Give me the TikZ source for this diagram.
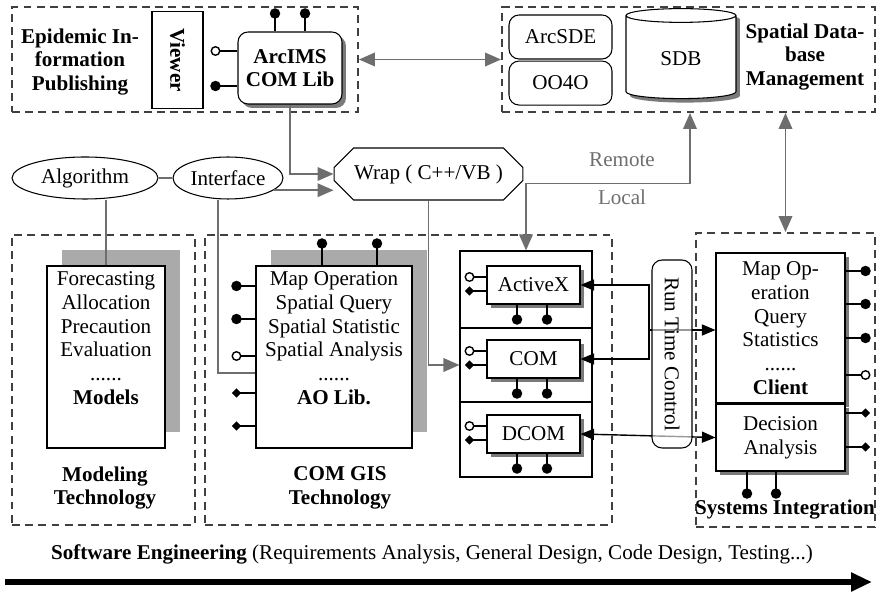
\documentclass[tikz,border=0pt,12pt]{standalone}
\usepackage{fontspec}
\setmainfont{Liberation Serif}
\linespread{0.93}
\usepackage{tikz}
\usetikzlibrary{
    shapes.geometric, shapes.misc, arrows.meta, positioning, shadows
}

\definecolor{linegray}{HTML}{6E6E6E}
\definecolor{dashgray}{HTML}{404040}
\definecolor{shadowlight}{HTML}{AAAAAA}
\definecolor{shadowdark}{HTML}{7A7A7A}

\begin{document}
\begin{tikzpicture}[x=0.02cm, y=-0.02cm, node distance=0.2cm]

    % Define styles for the nodes
    \tikzstyle{groupbox} = [
        rectangle, draw=dashgray, line width=1.1pt,
        dash pattern=on 4.5pt off 3pt, inner sep=0
    ]
    \tikzstyle{grouptitle} = [font=\bfseries, align=center, inner sep=1pt]
    \tikzstyle{plainbox} = [
        rectangle, draw=black, fill=white, semithick, align=center, inner sep=1pt
    ]
    \tikzstyle{roundbox} = [plainbox, rounded corners=0.2cm]
    \tikzstyle{darkshadow} = [
        drop shadow={shadow xshift=0.08cm, shadow yshift=-0.08cm,
        fill=shadowdark, opacity=1}
    ]
    \tikzstyle{backshadow} = [
        drop shadow={shadow xshift=0.3cm, shadow yshift=0.32cm,
        fill=shadowlight, opacity=1}
    ]
    \tikzstyle{oval} = [ellipse, draw=black, fill=white, semithick, inner sep=0]
    \tikzstyle{database} = [
        cylinder, shape border rotate=90, aspect=0.25, draw=black, fill=white, semithick
    ]
    \tikzstyle{wrapbox} = [
        chamfered rectangle, chamfered rectangle xsep=0.26cm,
        draw=black, fill=white, semithick
    ]
    \tikzstyle{stub} = [thick, black]
    \tikzstyle{ball} = [circle, fill=black, inner sep=0, minimum size=0.21cm]
    \tikzstyle{ring} = [circle, draw=black, thick, fill=white, inner sep=0, minimum size=0.17cm]
    \tikzstyle{lozenge} = [diamond, fill=black, inner sep=0, minimum size=0.2cm]
    \tikzstyle{grayline} = [draw=linegray, line width=1.1pt]
    \tikzstyle{grayarrow} = [grayline, -{Triangle[length=0.32cm, width=0.27cm]}]
    \tikzstyle{grayboth} = [
        grayline, {Triangle[length=0.32cm, width=0.27cm]}-{Triangle[length=0.32cm, width=0.27cm]}
    ]
    \tikzstyle{arrow} = [thick, -{Triangle[length=0.27cm, width=0.22cm]}]
    \tikzstyle{twoway} = [
        thick, {Triangle[length=0.27cm, width=0.22cm]}-{Triangle[length=0.27cm, width=0.22cm]}
    ]

    \useasboundingbox (0,0) rectangle (877,594);

    % Epidemic information publishing
    \node (pub) [groupbox, minimum width=6.92cm, minimum height=2.1cm] at (185,59.5) {};
    \node (pubtitle) [grouptitle] at (80,62) {Epidemic In-\\formation\\Publishing};
    \node (viewer) [plainbox, rotate=-90, font=\bfseries, minimum width=1.94cm, minimum height=1.02cm] at (177.5,60) {Viewer};
    \node (arcims) [roundbox, darkshadow, font=\bfseries, minimum width=2.08cm, minimum height=1.44cm] at (290,68) {ArcIMS\\COM Lib};

    % Spatial database management
    \node (sdm) [groupbox, minimum width=7.46cm, minimum height=2.1cm] at (688.5,59.5) {};
    \node (arcsde) [roundbox, minimum width=2.06cm, minimum height=0.88cm] at (560.5,37) {ArcSDE};
    \node (oo4o) [roundbox, minimum width=2.06cm, minimum height=0.88cm, below=0.02cm of arcsde] {OO4O};
    \node (sdb) [database, darkshadow, minimum width=2.2cm, minimum height=1.8cm] at (681,59) {SDB};
    \node (sdmtitle) [grouptitle] at (805,57) {Spatial Data-\\base\\Management};

    % Algorithm, interface and wrapper
    \node (algorithm) [oval, minimum width=2.92cm, minimum height=0.84cm] at (85,178) {Algorithm};
    \node (interface) [oval, minimum width=2.2cm, minimum height=0.84cm] at (228,178) {Interface};
    \node (wrap) [wrapbox, minimum width=3.66cm, minimum height=1.04cm] at (428.5,174) {Wrap ( C++/VB )};

    % Modeling technology
    \node (modeling) [groupbox, minimum width=3.66cm, minimum height=5.8cm] at (103.5,380) {};
    \node (models) [plainbox, backshadow, minimum width=2.36cm, minimum height=3.64cm] at (106,357) {};
    \node (modlist) [below=0.12cm of models.north, align=center, inner sep=0] {Forecasting\\Allocation\\Precaution\\Evaluation\\......\\\textbf{Models}};
    \node (modtitle) [grouptitle] at (105,488) {Modeling\\Technology};

    % COM GIS technology
    \node (comgis) [groupbox, minimum width=8.14cm, minimum height=5.8cm] at (408.5,380) {};
    \node (aolib) [plainbox, backshadow, minimum width=3.12cm, minimum height=3.64cm] at (334,357) {};
    \node (aolist) [below=0.12cm of aolib.north, align=center, inner sep=0] {Map Operation\\Spatial Query\\Spatial Statistic\\Spatial Analysis\\......\\\textbf{AO Lib.}};
    \node (gistitle) [grouptitle] at (340,488) {COM GIS\\Technology};
    \node (stack) [plainbox, minimum width=2.64cm, minimum height=4.52cm] at (526,364) {};
    \node (activex) [plainbox, darkshadow, minimum width=1.86cm, minimum height=0.76cm] at (533.5,285) {ActiveX};
    \node (com) [plainbox, darkshadow, minimum width=1.86cm, minimum height=0.76cm] at (533.5,359) {COM};
    \node (dcom) [plainbox, darkshadow, minimum width=1.86cm, minimum height=0.76cm] at (533.5,434) {DCOM};
    \draw [semithick] (stack.west |- 0,328) -- (stack.east |- 0,328);
    \draw [semithick] (stack.west |- 0,402) -- (stack.east |- 0,402);

    % Systems integration
    \node (systems) [groupbox, minimum width=3.58cm, minimum height=5.88cm] at (785.5,380) {};
    \node (client) [plainbox, darkshadow, minimum width=2.58cm, minimum height=3cm] at (780.5,328) {Map Op-\\eration\\Query\\Statistics\\......\\\textbf{Client}};
    \node (decision) [plainbox, darkshadow, minimum width=2.58cm, minimum height=1.34cm, below=0cm of client] {Decision\\Analysis};
    \node (systitle) [grouptitle] at (785,510) {Systems Integration};

    % Pins
    \draw [stub] (arcims.north -| 275,0) -- ++(0,-18) node [ball] {};
    \draw [stub] (arcims.north -| 305,0) -- ++(0,-18) node [ball] {};
    \draw [stub] (arcims.west |- 0,51) -- ++(-22,0) node [ring] {};
    \draw [stub] (arcims.west |- 0,86) -- ++(-22,0) node [ball] {};

    \draw [stub] (aolib.north -| 322,0) -- ++(0,-22) node [ball] {};
    \draw [stub] (aolib.north -| 377,0) -- ++(0,-22) node [ball] {};
    \draw [stub] (aolib.west |- 0,286) -- ++(-19,0) node [ball] {};
    \draw [stub] (aolib.west |- 0,319) -- ++(-19,0) node [ball] {};
    \draw [stub] (aolib.west |- 0,356) -- ++(-19,0) node [ring] {};
    \draw [stub] (aolib.west |- 0,393) -- ++(-19,0) node [lozenge] {};
    \draw [stub] (aolib.west |- 0,426) -- ++(-19,0) node [lozenge] {};

    \draw [stub] (activex.west |- 0,277) -- ++(-17,0) node [ring] {};
    \draw [stub] (activex.west |- 0,291) -- ++(-17,0) node [lozenge] {};
    \draw [stub] (activex.south -| 517,0) -- ++(0,15) node [ball] {};
    \draw [stub] (activex.south -| 547,0) -- ++(0,15) node [ball] {};
    \draw [stub] (com.west |- 0,351) -- ++(-17,0) node [ring] {};
    \draw [stub] (com.west |- 0,365) -- ++(-17,0) node [lozenge] {};
    \draw [stub] (com.south -| 517,0) -- ++(0,15) node [ball] {};
    \draw [stub] (com.south -| 547,0) -- ++(0,15) node [ball] {};
    \draw [stub] (dcom.west |- 0,426) -- ++(-17,0) node [ring] {};
    \draw [stub] (dcom.west |- 0,440) -- ++(-17,0) node [lozenge] {};
    \draw [stub] (dcom.south -| 517,0) -- ++(0,15) node [ball] {};
    \draw [stub] (dcom.south -| 547,0) -- ++(0,15) node [ball] {};

    \draw [stub] (client.east |- 0,271) -- ++(20,0) node [ball] {};
    \draw [stub] (client.east |- 0,304) -- ++(20,0) node [ball] {};
    \draw [stub] (client.east |- 0,338) -- ++(20,0) node [ball] {};
    \draw [stub] (client.east |- 0,375) -- ++(20,0) node [ring] {};
    \draw [stub] (decision.east |- 0,413) -- ++(20,0) node [lozenge] {};
    \draw [stub] (decision.east |- 0,447) -- ++(20,0) node [lozenge] {};
    \draw [stub] (decision.south -| 747,0) -- ++(0,22) node [ball] {};
    \draw [stub] (decision.south -| 776,0) -- ++(0,22) node [ball] {};

    % Gray arrows
    \draw [grayboth] (pub) -- (sdm);
    \draw [grayarrow] (arcims.south) |- (wrap.west);
    \draw [grayline] (algorithm) -- (interface);
    \draw [grayarrow] (interface.-15) -- (interface.-15 -| wrap.west);
    \draw [grayline] (models.north) -- (models.north |- algorithm.south);
    \draw [grayline] ([xshift=-0.2cm]interface.south) |- (aolib.west |- 0,373);
    \draw [grayarrow] (wrap.south) |- (stack.west |- 0,365);
    \draw [grayboth] (stack.north) -- ++(0,-67) -| ([xshift=0.18cm]sdb.south |- sdm.south);
    \node (remote) [text=linegray] at (622,160) {Remote};
    \node (local) [text=linegray] at (622,197) {Local};
    \draw [grayboth] (systems.north) -- (systems.north |- sdm.south);

    % Black arrows
    \coordinate (rtc) at (649,330);
    \draw [arrow] (rtc) |- (activex.east);
    \draw [arrow] (rtc) |- (com.east);
    \draw [arrow] (rtc) -- (rtc -| client.west);
    \draw [twoway] (dcom.east) -- (decision.west);
    \node (runtime) [roundbox, rotate=-90, fill opacity=0.6, text opacity=1, minimum width=3.76cm, minimum height=0.8cm] at (672,354) {Run Time Control};

    % Software engineering
    \node (se) at (432,554) {\textbf{Software Engineering} (Requirements Analysis, General Design, Code Design, Testing...)};
    \coordinate (sestart) at (5,582);
    \coordinate (seend) at (872,582);
    \draw [line width=3.4pt, -{Triangle[length=0.42cm, width=0.36cm]}] (sestart) -- (seend);

\end{tikzpicture}
\end{document}
